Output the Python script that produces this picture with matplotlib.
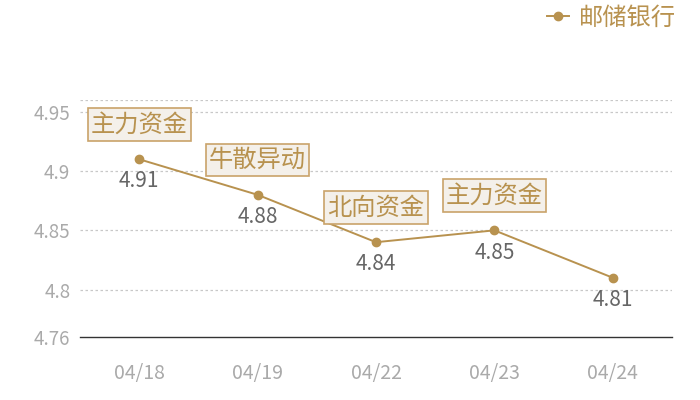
import matplotlib
matplotlib.use("Agg")
import matplotlib.pyplot as plt

plt.rcParams['font.family'] = ['Noto Sans CJK SC', 'DejaVu Sans']

dates = ['04/18', '04/19', '04/22', '04/23', '04/24']
prices = [4.91, 4.88, 4.84, 4.85, 4.81]
tags = ['主力资金', '牛散异动', '北向资金', '主力资金', None]
series_name = '邮储银行'
yticks = [4.76, 4.8, 4.85, 4.9, 4.95]
ytick_labels = ['4.76', '4.8', '4.85', '4.9', '4.95']

gold = '#B8924F'
x = list(range(len(dates)))

fig = plt.figure(figsize=(7, 4), dpi=100)
ax = fig.add_axes([80 / 700, 63 / 400, 592 / 700, 237 / 400])

line, = ax.plot(x, prices, color=gold, lw=1.4, marker='o', ms=6, zorder=3,
                label=series_name)

ax.set_xlim(-0.5, len(dates) - 0.5)
ax.set_ylim(4.76, 4.96)
ax.set_xticks(x)
ax.set_xticklabels(dates)
ax.set_yticks(yticks)
ax.set_yticklabels(ytick_labels)

# grid lines (dotted) including the top edge
for v in yticks[1:] + [4.96]:
    ax.axhline(v, color='#c8c8c8', lw=0.9, ls=(0, (2, 2)), zorder=1)

for s in ['left', 'right', 'top']:
    ax.spines[s].set_visible(False)
ax.spines['bottom'].set_color('#333333')
ax.spines['bottom'].set_linewidth(1.0)

ax.tick_params(axis='both', length=0, labelcolor='#aaaaaa')
ax.tick_params(axis='x', pad=19, labelsize=14)
ax.tick_params(axis='y', pad=7, labelsize=13.5)

for xi, p, t in zip(x, prices, tags):
    ax.annotate(f'{p:.2f}', (xi, p), xytext=(0, -16), textcoords='offset points',
                ha='center', va='center', fontsize=15, color='#666666', zorder=4)
    if t:
        ax.annotate(t, (xi, p), xytext=(0, 25), textcoords='offset points',
                    ha='center', va='center', fontsize=17.5, color=gold, zorder=5,
                    bbox=dict(boxstyle='square,pad=0.13', fc='#F4F0EA',
                              ec='#C9A36A', lw=1.2))

fig.legend(handles=[line], labels=[series_name], loc='center right',
           bbox_to_anchor=(0.965, 1 - 18 / 400), frameon=False,
           fontsize=17.5, labelcolor=gold, handlelength=0.9, handletextpad=0.4,
           borderpad=0, borderaxespad=0)

fig.savefig('out.png', dpi=100)
